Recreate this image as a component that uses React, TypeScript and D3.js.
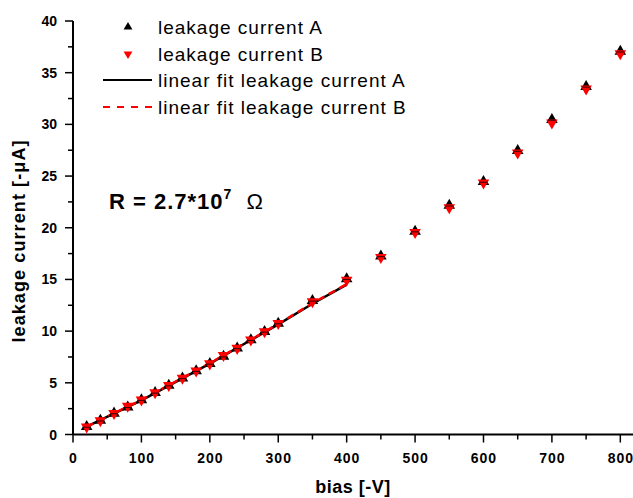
import React, { useEffect, useRef } from 'react';
import * as d3 from 'd3';

const biasValues = [20, 40, 60, 80, 100, 120, 140, 160, 180, 200, 220, 240, 260, 280, 300, 350, 400, 450, 500, 550, 600, 650, 700, 750, 800];
const currentA = [0.8, 1.4, 2.1, 2.7, 3.4, 4.1, 4.8, 5.5, 6.2, 6.9, 7.6, 8.4, 9.2, 10.0, 10.8, 13.0, 15.1, 17.3, 19.7, 22.2, 24.5, 27.5, 30.5, 33.7, 37.1];
const currentB = [0.7, 1.3, 2.0, 2.7, 3.3, 4.0, 4.7, 5.4, 6.1, 6.8, 7.6, 8.3, 9.1, 9.9, 10.7, 12.8, 14.9, 17.1, 19.5, 21.9, 24.3, 27.2, 30.1, 33.4, 36.8];
const fitBias = [20, 100, 200, 300, 350, 400];
const fitA = [0.75, 3.3, 6.85, 10.65, 12.65, 14.5];
const fitB = [0.75, 3.35, 6.9, 10.7, 12.7, 14.55];
const xTicks = [0, 100, 200, 300, 400, 500, 600, 700, 800];
const yTicks = [0, 5, 10, 15, 20, 25, 30, 35, 40];
const legendLabels = ['leakage current A', 'leakage current B', 'linear fit leakage current A', 'linear fit leakage current B'];

const W = 633;
const H = 498;
const FONT = '"Liberation Sans", Arial, sans-serif';

export default function App() {
    const ref = useRef<SVGSVGElement>(null);

    useEffect(() => {
        const svg = d3.select(ref.current);
        svg.selectAll('*').remove();

        const x = d3.scaleLinear().domain([0, 820]).range([73, 634]);
        const y = d3.scaleLinear().domain([0, 40]).range([434.5, 21]);

        // x axis, major + minor ticks
        const xAxis = svg.append('g').attr('transform', `translate(0,${y(0)})`);
        xAxis.append('line').attr('x1', x(0)).attr('x2', W).attr('stroke', '#000').attr('stroke-width', 2);
        xAxis.selectAll('.minor').data(d3.range(50, 820, 100)).enter().append('line')
            .attr('x1', d => x(d)).attr('x2', d => x(d)).attr('y1', 0).attr('y2', 5)
            .attr('stroke', '#000').attr('stroke-width', 1.5);
        xAxis.selectAll('.major').data(xTicks).enter().append('line')
            .attr('x1', d => x(d)).attr('x2', d => x(d)).attr('y1', 0).attr('y2', 8)
            .attr('stroke', '#000').attr('stroke-width', 1.5);
        xAxis.selectAll('text').data(xTicks).enter().append('text')
            .attr('x', d => x(d) + 0.5).attr('y', 28).attr('text-anchor', 'middle')
            .attr('font-family', FONT).attr('font-weight', 'bold').attr('font-size', 14)
            .attr('letter-spacing', 1)
            .text(d => d);

        // y axis
        const yAxis = svg.append('g').attr('transform', `translate(${x(0)},0)`);
        yAxis.append('line').attr('y1', y(0)).attr('y2', y(40)).attr('stroke', '#000').attr('stroke-width', 2);
        yAxis.selectAll('.minor').data(d3.range(2.5, 40, 5)).enter().append('line')
            .attr('y1', d => y(d)).attr('y2', d => y(d)).attr('x1', 0).attr('x2', -5)
            .attr('stroke', '#000').attr('stroke-width', 1.5);
        yAxis.selectAll('.major').data(yTicks).enter().append('line')
            .attr('y1', d => y(d)).attr('y2', d => y(d)).attr('x1', 0).attr('x2', -8)
            .attr('stroke', '#000').attr('stroke-width', 1.5);
        yAxis.selectAll('text').data(yTicks).enter().append('text')
            .attr('x', -16).attr('y', d => y(d) + 5).attr('text-anchor', 'end')
            .attr('font-family', FONT).attr('font-weight', 'bold').attr('font-size', 14)
            .text(d => d);

        // axis titles
        svg.append('text')
            .attr('x', 353).attr('y', 493).attr('text-anchor', 'middle')
            .attr('font-family', FONT).attr('font-weight', 'bold').attr('font-size', 18)
            .attr('letter-spacing', 0.5)
            .text('bias [-V]');
        svg.append('text')
            .attr('transform', 'translate(25,241) rotate(-90)')
            .attr('text-anchor', 'middle')
            .attr('font-family', FONT).attr('font-weight', 'bold').attr('font-size', 18)
            .attr('letter-spacing', 1.1)
            .text('leakage current [-\u03bcA]');

        // fit lines
        const line = d3.line<number>().x((d, i) => x(fitBias[i])).y(d => y(d));
        svg.append('path').attr('d', line(fitA)).attr('fill', 'none')
            .attr('stroke', '#000').attr('stroke-width', 2.5);
        svg.append('path').attr('d', line(fitB)).attr('fill', 'none')
            .attr('stroke', '#ff0000').attr('stroke-width', 2.5).attr('stroke-dasharray', '7,5');

        // markers
        const tri = d3.symbol().type(d3.symbolTriangle).size(58);
        svg.append('g').selectAll('path').data(currentA).enter().append('path')
            .attr('d', tri)
            .attr('transform', (d, i) => `translate(${x(biasValues[i])},${y(d) + 0.5})`)
            .attr('fill', '#000');
        svg.append('g').selectAll('path').data(currentB).enter().append('path')
            .attr('d', tri)
            .attr('transform', (d, i) => `translate(${x(biasValues[i])},${y(d) - 0.5}) rotate(180)`)
            .attr('fill', '#ff0000');
        // small error-bar caps on top of the markers
        svg.append('g').selectAll('line').data(currentA).enter().append('line')
            .attr('x1', (d, i) => x(biasValues[i]) - 4).attr('x2', (d, i) => x(biasValues[i]) + 4)
            .attr('y1', d => y(d) + 1).attr('y2', d => y(d) + 1)
            .attr('stroke', '#000').attr('stroke-width', 1).attr('opacity', 0.8);

        // legend
        const legend = svg.append('g').attr('font-family', FONT).attr('font-size', 19).attr('letter-spacing', 1);
        const rowY = [27, 54, 80, 107];
        const smallTri = d3.symbol().type(d3.symbolTriangle).size(34);
        legend.append('path').attr('d', smallTri).attr('transform', `translate(128,${rowY[0]})`).attr('fill', '#000');
        legend.append('path').attr('d', smallTri).attr('transform', `translate(128,${rowY[1]}) rotate(180)`).attr('fill', '#ff0000');
        legend.append('line').attr('x1', 103).attr('x2', 152).attr('y1', rowY[2]).attr('y2', rowY[2])
            .attr('stroke', '#000').attr('stroke-width', 2);
        legend.append('line').attr('x1', 103).attr('x2', 152).attr('y1', rowY[3]).attr('y2', rowY[3])
            .attr('stroke', '#ff0000').attr('stroke-width', 2).attr('stroke-dasharray', '7,7');
        legend.selectAll('text').data(legendLabels).enter().append('text')
            .attr('x', 158).attr('y', (d, i) => rowY[i] + 7)
            .text(d => d);

        // resistance annotation
        const ann = svg.append('text').attr('x', 109).attr('y', 209)
            .attr('font-family', FONT).attr('font-size', 22).attr('font-weight', 'bold')
            .attr('letter-spacing', 1);
        ann.append('tspan').text('R = 2.7*10');
        ann.append('tspan').attr('dy', -10).attr('font-size', 14).text('7');
        ann.append('tspan').attr('dy', 10).attr('dx', 14).attr('font-weight', 'normal').text('\u03a9');
    }, []);

    return (
        <svg ref={ref} width={W} height={H}
            style={{ position: 'absolute', left: 0, top: 0, background: '#fff' }} />
    );
}
